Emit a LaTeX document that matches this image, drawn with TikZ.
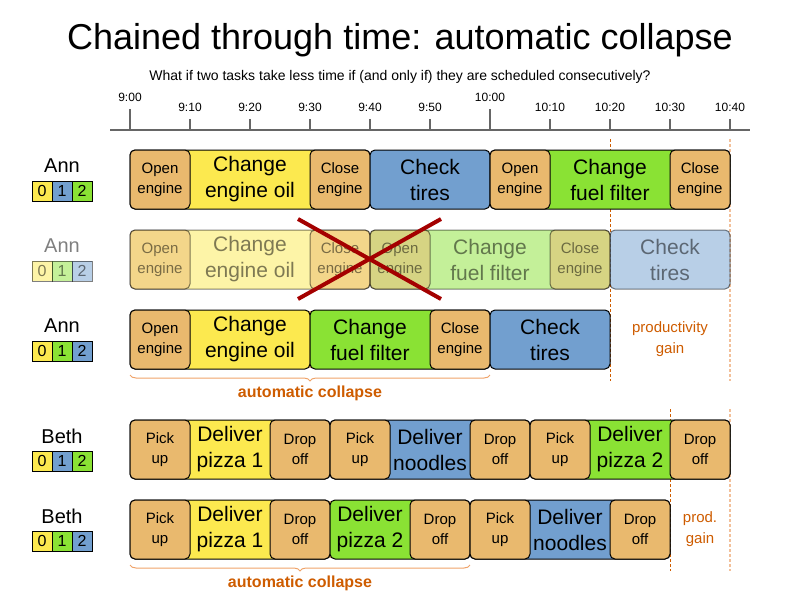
\documentclass[tikz,border=0pt]{standalone}
\usepackage{fontspec}
\setmainfont{Liberation Sans}
\usetikzlibrary{decorations.pathreplacing}
\definecolor{tOr}{HTML}{E9B96E}
\definecolor{tYe}{HTML}{FCE94F}
\definecolor{tBl}{HTML}{729FCF}
\definecolor{tGr}{HTML}{8AE234}
\definecolor{tDk}{HTML}{CE5C00}
\definecolor{tBr}{HTML}{EFA36A}
\definecolor{tLt}{HTML}{F2C09A}
\definecolor{tRd}{HTML}{A40000}
\definecolor{axisc}{HTML}{666666}
\newcommand\grp[4]{\draw[grp, fill=#4] (#1,#3) rectangle (#2,#3+59);}
\newcommand\tb[6]{\node[tk, fill=#5, minimum width=#3pt-#2pt] (#1) at ({(#2+#3)/2},#4+29.5) {#6};}
\newcommand\tbb[6]{\node[tkb, fill=#5, minimum width=#3pt-#2pt] (#1) at ({(#2+#3)/2},#4+29.5) {#6};}
\newcommand\bt[5]{\node[big] (#1) at ({(#2+#3)/2},#4+29.5) {#5};}
\newcommand\lgd[5]{%
  \node[lg,fill=#3] (#1a) at (42,#2) {0};
  \node[lg,fill=#4] (#1b) at (62,#2) {1};
  \node[lg,fill=#5] (#1c) at (82,#2) {2};}
\begin{document}
\begin{tikzpicture}[x=1pt,y=-1pt,
  grp/.style={draw=black, line width=1pt, rounded corners=5pt},
  tk/.style={draw=black, line width=1pt, rounded corners=5pt, minimum height=59pt, inner sep=0pt, align=center, font=\fontsize{15}{20}\selectfont},
  tkb/.style={tk, font=\fontsize{21}{26}\selectfont},
  big/.style={inner sep=0pt, align=center, font=\fontsize{21}{26}\selectfont},
  lg/.style={draw=black, line width=0.8pt, minimum size=20pt, inner sep=0pt, font=\fontsize{16}{16}\selectfont},
  pname/.style={inner sep=0pt, font=\fontsize{20}{20}\selectfont},
  tick/.style={axisc, line width=2pt},
  tlab/.style={inner sep=0pt, font=\fontsize{12}{12}\selectfont},
  gainline/.style={tDk, line width=1pt, dash pattern=on 3pt off 2pt},
  endline/.style={tLt, line width=2pt, dash pattern=on 3pt off 2pt},
  brc/.style={tBr, line width=1pt, decorate, decoration={brace, mirror, amplitude=6pt}},
  brtext/.style={tDk, inner sep=0pt, font=\bfseries\fontsize{16}{16}\selectfont},
  gain/.style={tDk, inner sep=0pt, align=center, font=\fontsize{15}{21}\selectfont}
]
\useasboundingbox (0,0) rectangle (800,600);
% title
\node[inner sep=0pt, font=\fontsize{36}{36}\selectfont] (title) at (400,40) {Chained through time: automatic collapse};
\node[inner sep=0pt, font=\fontsize{14}{14}\selectfont] (sub) at (400,77) {What if two tasks take less time if (and only if) they are scheduled consecutively?};
% axis
\coordinate (axl) at (110,129.5);
\coordinate (axr) at (750,129.5);
\draw[tick] (axl) -- (axr);
\foreach \i/\lab in {0/9:00,6/10:00}{
  \coordinate (tt\i) at (130+60*\i,109);
  \coordinate (tb\i) at (130+60*\i,129.5);
  \draw[tick] (tt\i) -- (tb\i);
  \node[tlab] (tl\i) at (130+60*\i,97) {\lab};
}
\foreach \i/\lab in {1/9:10,2/9:20,3/9:30,4/9:40,5/9:50,7/10:10,8/10:20,9/10:30,10/10:40}{
  \coordinate (tt\i) at (130+60*\i,119);
  \coordinate (tb\i) at (130+60*\i,129.5);
  \draw[tick] (tt\i) -- (tb\i);
  \node[tlab] (tl\i) at (130+60*\i,107) {\lab};
}
% gain lines
\coordinate (g1t) at (610,139); \coordinate (g1b) at (610,381);
\coordinate (g2t) at (730,139); \coordinate (g2b) at (730,381);
\coordinate (g3t) at (670,409); \coordinate (g3b) at (670,571);
\coordinate (g4t) at (730,409); \coordinate (g4b) at (730,571);
\draw[gainline] (g1t) -- (g1b);
\draw[endline] (g2t) -- (g2b);
\draw[gainline] (g3t) -- (g3b);
\draw[endline] (g4t) -- (g4b);

% ===== Ann row 1 =====
\node[pname] (ann1) at (62,166) {Ann};
\lgd{l1}{191}{tYe}{tBl}{tGr}
\grp{130}{370}{150}{tYe}
\tb{a1o}{130}{190}{150}{tOr}{Open\\engine}
\bt{a1m}{190}{310}{150}{Change\\engine oil}
\tb{a1c}{310}{370}{150}{tOr}{Close\\engine}
\tbb{a1t}{370}{490}{150}{tBl}{Check\\tires}
\grp{490}{730}{150}{tGr}
\tb{a1o2}{490}{550}{150}{tOr}{Open\\engine}
\bt{a1f}{550}{670}{150}{Change\\fuel filter}
\tb{a1c2}{670}{730}{150}{tOr}{Close\\engine}

% ===== Ann faded row =====
\begin{scope}[fill opacity=0.5, draw opacity=0.5, text opacity=0.5]
\node[pname] (ann2) at (62,246) {Ann};
\lgd{l2}{271}{tYe}{tGr}{tBl}
\grp{130}{370}{230}{tYe}
\tb{a2o}{130}{190}{230}{tOr}{Open\\engine}
\bt{a2m}{190}{310}{230}{Change\\engine oil}
\tb{a2c}{310}{370}{230}{tOr}{Close\\engine}
\grp{370}{610}{230}{tGr}
\tb{a2o2}{370}{430}{230}{tOr}{Open\\engine}
\bt{a2f}{430}{550}{230}{Change\\fuel filter}
\tb{a2c2}{550}{610}{230}{tOr}{Close\\engine}
\tbb{a2t}{610}{730}{230}{tBl}{Check\\tires}
\end{scope}
\coordinate (x1) at (298,219); \coordinate (x2) at (441,299);
\coordinate (x3) at (298,299); \coordinate (x4) at (441,219);
\draw[tRd, line width=4pt] (x1) -- (x2);
\draw[tRd, line width=4pt] (x3) -- (x4);

% ===== Ann row 3 =====
\node[pname] (ann3) at (62,326) {Ann};
\lgd{l3}{351}{tYe}{tGr}{tBl}
\fill[tOr] (304,311) rectangle (316,368);
\grp{130}{310}{310}{tYe}
\tb{a3o}{130}{190}{310}{tOr}{Open\\engine}
\bt{a3m}{190}{310}{310}{Change\\engine oil}
\grp{310}{490}{310}{tGr}
\bt{a3f}{310}{430}{310}{Change\\fuel filter}
\tb{a3c}{430}{490}{310}{tOr}{Close\\engine}
\tbb{a3t}{490}{610}{310}{tBl}{Check\\tires}
\node[gain] (pg) at (670,339) {productivity\\gain};
\coordinate (b1l) at (130,375); \coordinate (b1r) at (490,375);
\draw[brc] (b1l) -- (b1r);
\node[brtext] (ac1) at (310,393) {automatic collapse};

% ===== Beth row 1 =====
\node[pname] (beth1) at (62,436) {Beth};
\lgd{l4}{461}{tYe}{tBl}{tGr}
\grp{130}{330}{420}{tYe}
\tb{b1p}{130}{190}{420}{tOr}{Pick\\up}
\bt{b1d}{190}{270}{420}{Deliver\\pizza 1}
\tb{b1x}{270}{330}{420}{tOr}{Drop\\off}
\grp{330}{530}{420}{tBl}
\tb{b1p2}{330}{390}{420}{tOr}{Pick\\up}
\bt{b1d2}{390}{470}{420}{Deliver\\noodles}
\tb{b1x2}{470}{530}{420}{tOr}{Drop\\off}
\grp{530}{730}{420}{tGr}
\tb{b1p3}{530}{590}{420}{tOr}{Pick\\up}
\bt{b1d3}{590}{670}{420}{Deliver\\pizza 2}
\tb{b1x3}{670}{730}{420}{tOr}{Drop\\off}

% ===== Beth row 2 =====
\node[pname] (beth2) at (62,516) {Beth};
\lgd{l5}{541}{tYe}{tGr}{tBl}
\fill[tOr] (324,501) rectangle (336,558);
\grp{130}{330}{500}{tYe}
\tb{b2p}{130}{190}{500}{tOr}{Pick\\up}
\bt{b2d}{190}{270}{500}{Deliver\\pizza 1}
\tb{b2x}{270}{330}{500}{tOr}{Drop\\off}
\grp{330}{470}{500}{tGr}
\bt{b2d2}{330}{410}{500}{Deliver\\pizza 2}
\tb{b2x2}{410}{470}{500}{tOr}{Drop\\off}
\grp{470}{670}{500}{tBl}
\tb{b2p3}{470}{530}{500}{tOr}{Pick\\up}
\bt{b2d3}{530}{610}{500}{Deliver\\noodles}
\tb{b2x3}{610}{670}{500}{tOr}{Drop\\off}
\node[gain] (pg2) at (700,529) {prod.\\gain};
\coordinate (b2l) at (130,565); \coordinate (b2r) at (470,565);
\draw[brc] (b2l) -- (b2r);
\node[brtext] (ac2) at (300,583) {automatic collapse};
\end{tikzpicture}
\end{document}
